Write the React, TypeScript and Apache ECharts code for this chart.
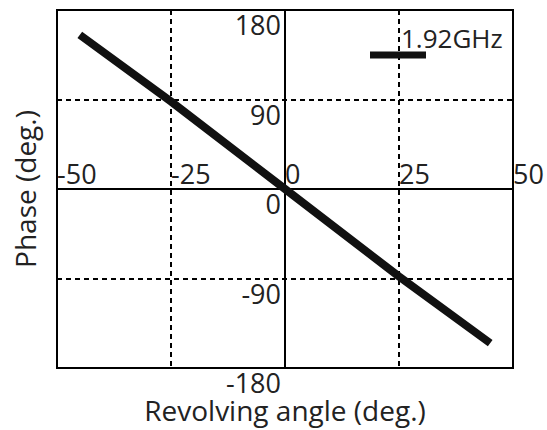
import React, { useEffect, useRef } from "react";
import * as echarts from "echarts";

const seriesName = "1.92GHz";
const angles = [-45, -25, 0, 25, 45];
const phases = [155, 88, 0, -88, -155];
const xTicks = { min: -50, max: 50, interval: 25 };
const yTicks = { min: -180, max: 180, interval: 90 };
const xTitle = "Revolving angle (deg.)";
const yTitle = "Phase (deg.)";

const FONT = "'Open Sans', 'DejaVu Sans', sans-serif";
const TEXT = "#222";

const GRID = { left: 57, right: 34, top: 10, bottom: 62 };
const W = 547;
const H = 430;

export default function App() {
  const ref = useRef<HTMLDivElement>(null);
  useEffect(() => {
    if (!ref.current) return;
    const chart = echarts.init(ref.current, null, { renderer: "svg" });
    const dash = { color: "#000", width: 2, type: [5, 4] as number[] };
    const gw = W - GRID.left - GRID.right;
    const gh = H - GRID.top - GRID.bottom;
    chart.setOption({
      animation: false,
      backgroundColor: "#fff",
      textStyle: { fontFamily: FONT },
      grid: {
        ...GRID,
        show: true,
        borderColor: "#000",
        borderWidth: 2,
        containLabel: false,
        outerBoundsMode: "none",
      },
      xAxis: {
        type: "value",
        min: xTicks.min,
        max: xTicks.max,
        interval: xTicks.interval,
        position: "bottom",
        offset: -gh / 2,
        axisLine: { onZero: false, lineStyle: { color: "#000", width: 2 } },
        axisTick: { show: false },
        splitLine: { show: true, lineStyle: dash },
        axisLabel: {
          inside: true,
          align: "left",
          margin: 4,
          fontSize: 27,
          lineHeight: 23,
          color: TEXT,
          fontFamily: FONT,
          showMinLabel: true,
          showMaxLabel: true,
        },
        name: xTitle,
        nameLocation: "middle",
        nameGap: 209,
        nameTextStyle: { fontSize: 28, lineHeight: 24, color: TEXT, fontFamily: FONT },
      },
      yAxis: {
        type: "value",
        min: yTicks.min,
        max: yTicks.max,
        interval: yTicks.interval,
        position: "left",
        offset: -gw / 2,
        axisLine: { onZero: false, lineStyle: { color: "#000", width: 2 } },
        axisTick: { show: false },
        splitLine: { show: true, lineStyle: dash },
        axisLabel: {
          margin: 4,
          verticalAlign: "top",
          fontSize: 27,
          lineHeight: 23,
          padding: [3, 0, 0, 0],
          color: TEXT,
          fontFamily: FONT,
          showMinLabel: true,
          showMaxLabel: true,
        },
        name: yTitle,
        nameLocation: "middle",
        nameGap: 248,
        nameTextStyle: { fontSize: 28, lineHeight: 24, color: TEXT, fontFamily: FONT },
      },
      graphic: [
        {
          type: "line",
          shape: { x1: 370, y1: 55, x2: 426, y2: 55 },
          style: { stroke: "#111", lineWidth: 7 },
          z: 10,
        },
        {
          type: "text",
          x: 401,
          y: 38,
          style: {
            text: seriesName,
            fontSize: 26,
            fontFamily: FONT,
            fill: TEXT,
            verticalAlign: "middle",
            align: "left",
          },
          z: 10,
        },
      ],
      series: [
        {
          name: seriesName,
          type: "line",
          data: angles.map((a, i) => [a, phases[i]]),
          symbol: "none",
          lineStyle: { color: "#111", width: 8, cap: "butt" },
          z: 5,
        },
      ],
    });
    return () => chart.dispose();
  }, []);
  return (
    <div
      ref={ref}
      style={{ position: "fixed", left: 0, top: 0, width: W, height: H }}
    />
  );
}
